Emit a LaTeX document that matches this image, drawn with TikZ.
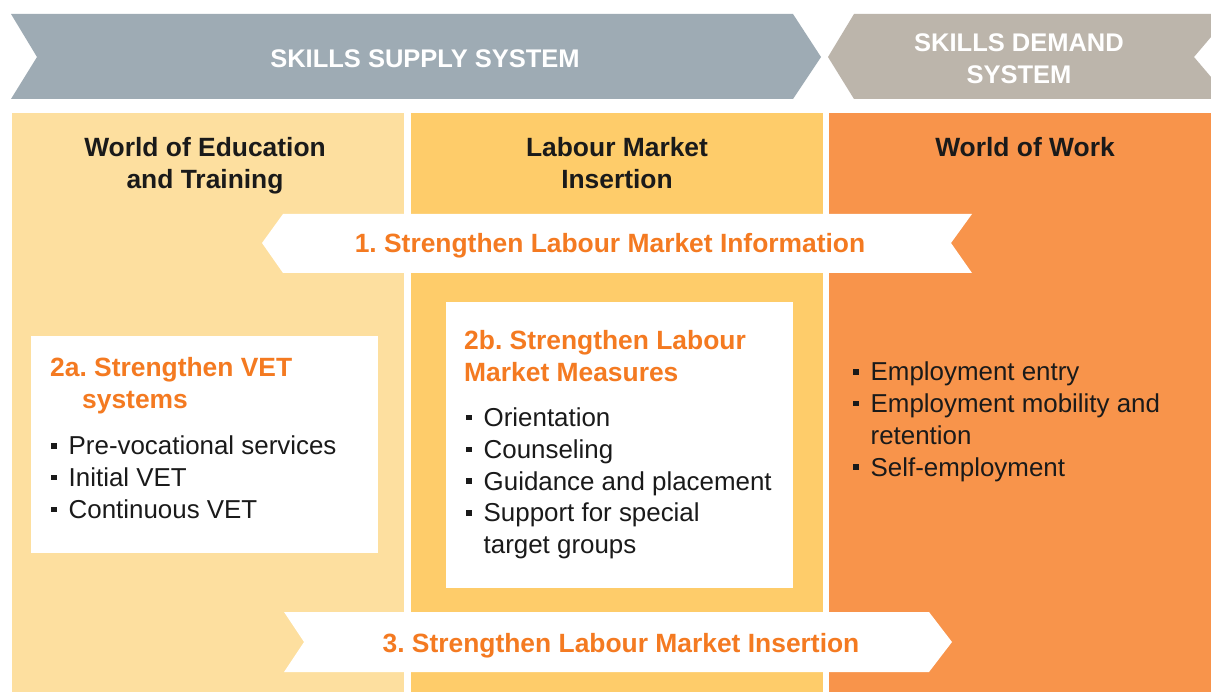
\documentclass[tikz,border=0pt]{standalone}
\usepackage{fontspec}
\setmainfont{Liberation Sans}
\frenchspacing
\definecolor{supply}{HTML}{9EABB4}
\definecolor{demand}{HTML}{BCB5AB}
\definecolor{colA}{HTML}{FDDF9F}
\definecolor{colB}{HTML}{FECC6A}
\definecolor{colC}{HTML}{F8944B}
\definecolor{accent}{HTML}{F47A21}
\definecolor{ink}{HTML}{1A1A1A}
\newcommand\Lft[1]{\vtop{\baselineskip=31.7pt\lineskiplimit=-100pt\halign{##\hfil\cr#1\crcr}}}
\newcommand\Ctr[1]{\vtop{\baselineskip=31.7pt\lineskiplimit=-100pt\halign{\hfil##\hfil\cr#1\crcr}}}
\newcommand\bsq{\makebox[17.5pt][l]{\rule[6.2pt]{5.4pt}{5.4pt}}}
\tikzset{
  txt/.style={inner sep=0pt, font=\fontsize{25.9}{31.7}\selectfont},
  btxt/.style={inner sep=0pt, font=\fontsize{26.4}{31.7}\selectfont\bfseries},
  bantxt/.style={inner sep=0pt, font=\fontsize{25.5}{31.7}\selectfont\bfseries, text=white, anchor=base},
  lefttxt/.style={anchor=base west},
  centtxt/.style={anchor=base},
}
\begin{document}
\begin{tikzpicture}[x=1pt,y=-1pt]
\useasboundingbox (0,0) rectangle (1211,692);
\fill[white] (0,0) rectangle (1211,692);
% banners
\fill[supply] (11,14) -- (793,14) -- (821,57) -- (793,99) -- (11,99) -- (37,57) -- cycle;
\fill[demand] (854,14) -- (1211,14) -- (1211,37) -- (1194,57) -- (1211,77) -- (1211,99) -- (854,99) -- (828,57) -- cycle;
% columns
\fill[colA] (12,113) rectangle (404,692);
\fill[colB] (411,113) rectangle (823,692);
\fill[colC] (829,113) rectangle (1211,692);
% arrows
\fill[white] (283,214) -- (972,214) -- (951,243) -- (972,273) -- (283,273) -- (262,243) -- cycle;
\fill[white] (284,612) -- (929,612) -- (952,642) -- (929,672) -- (284,672) -- (304,642) -- cycle;
% boxes
\fill[white] (31,336) rectangle (378,553);
\fill[white] (446,302) rectangle (793,588);
% banner texts
\node[bantxt] (supplyT) at (425,67.5) {SKILLS SUPPLY SYSTEM};
\node[bantxt] (demandT) at (1019,51.7) {\Ctr{SKILLS DEMAND\cr SYSTEM}};
% column headers
\node[btxt, centtxt, text=ink] (hA) at (205,157) {\Ctr{World of Education\cr and Training}};
\node[btxt, centtxt, text=ink] (hB) at (617,157) {\Ctr{Labour Market\cr Insertion}};
\node[btxt, centtxt, text=ink] (hC) at (1025,157) {World of Work};
% arrow texts
\node[btxt, centtxt, text=accent] (a1) at (610,253) {1. Strengthen Labour Market Information};
\node[btxt, centtxt, text=accent] (a3) at (621,652) {3. Strengthen Labour Market Insertion};
% box 2a
\node[btxt, lefttxt, text=accent] (t2a) at (50,377) {\Lft{2a. Strengthen VET\cr\hskip32pt systems}};
\node[txt, lefttxt, text=ink] (l2a) at (51,455) {\Lft{\bsq Pre-vocational services\cr \bsq Initial VET\cr \bsq Continuous VET}};
% box 2b
\node[btxt, lefttxt, text=accent] (t2b) at (464,349.5) {\Lft{2b. Strengthen Labour\cr Market Measures}};
\node[txt, lefttxt, text=ink] (l2b) at (466,426.7) {\Lft{\bsq Orientation\cr \bsq Counseling\cr \bsq Guidance and placement\cr \bsq Support for special\cr \hskip17.5pt target groups}};
% column 3
\node[txt, lefttxt, text=ink] (lC) at (853,381) {\Lft{\bsq Employment entry\cr \bsq Employment mobility and\cr \hskip17.5pt retention\cr \bsq Self-employment}};
\end{tikzpicture}
\end{document}
